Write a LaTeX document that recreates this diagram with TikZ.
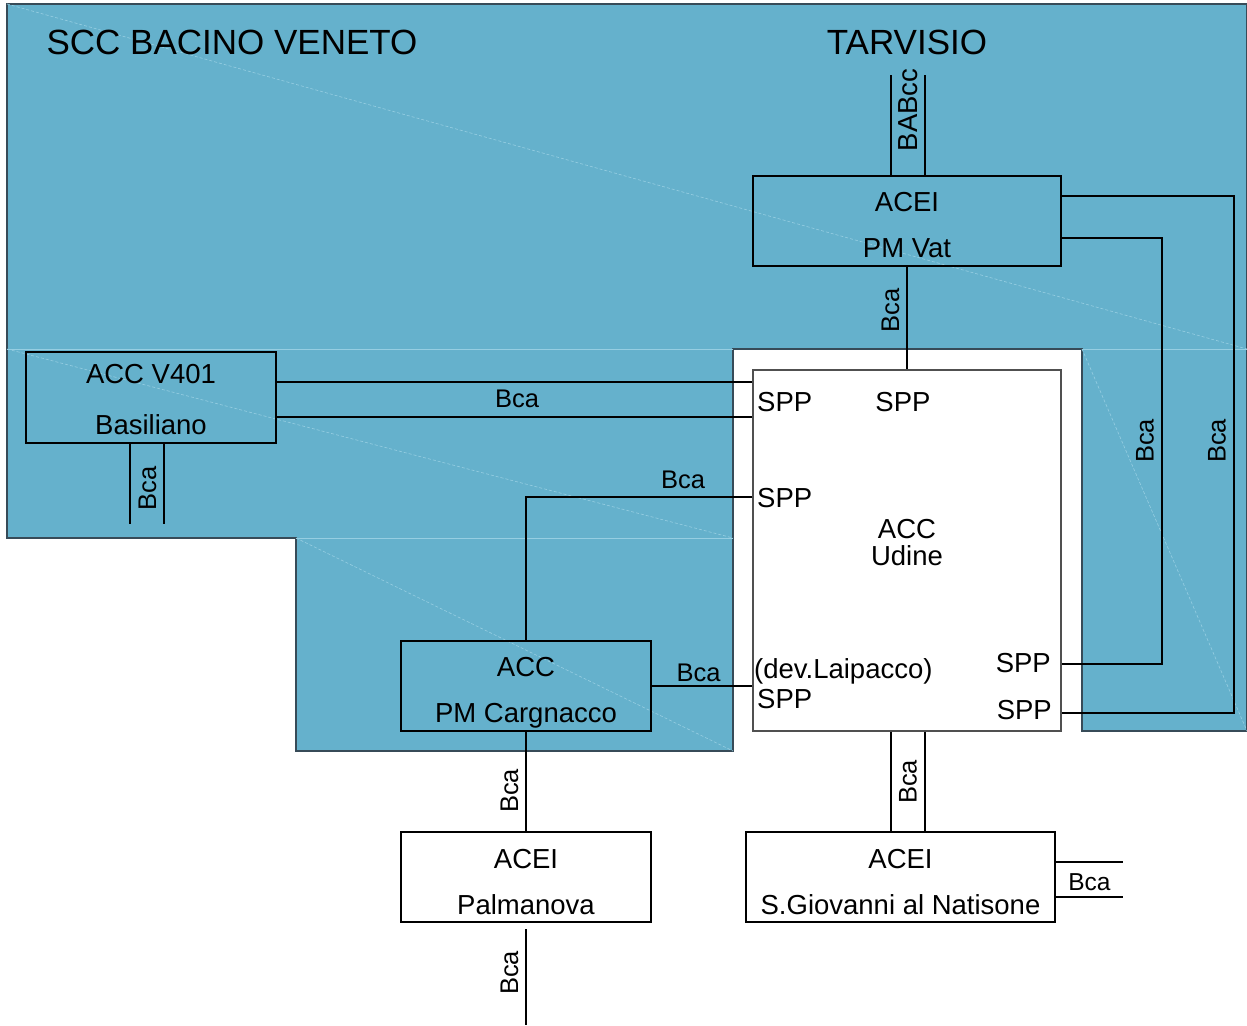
\documentclass[tikz,border=0pt]{standalone}
\usepackage{fontspec}
\setmainfont{Liberation Sans}
\usetikzlibrary{calc}
\definecolor{regionblue}{RGB}{101,177,204}
\definecolor{regionedge}{RGB}{55,75,88}
\definecolor{seam}{RGB}{150,206,226}
\definecolor{udineedge}{RGB}{80,80,80}
\newcommand{\fbig}{\fontsize{35pt}{38pt}\selectfont}
\newcommand{\fmid}{\fontsize{27.5pt}{30pt}\selectfont}
\newcommand{\fbca}{\fontsize{25.5pt}{28pt}\selectfont}
\begin{document}
\begin{tikzpicture}[x=1pt,y=-1pt,
  box/.style={draw=black,line width=1.1pt,inner sep=0pt},
  wire/.style={draw=black,line width=1.1pt},
  seamline/.style={draw=seam,line width=0.6pt},
  seamdash/.style={draw=seam,line width=0.6pt,dash pattern=on 3pt off 2pt},
  title/.style={inner sep=0pt,font=\fbig,anchor=base},
  lbl/.style={inner sep=0pt,font=\fmid,anchor=base},
  bca/.style={inner sep=0pt,font=\fbca,anchor=base},
  vbca/.style={inner sep=0pt,font=\fbca,rotate=90}]
\useasboundingbox (0,0) rectangle (1247,1025);
\fill[white] (0,0) rectangle (1247,1025);
% blue region
\filldraw[fill=regionblue,draw=regionedge,line width=1.2pt]
  (7,4) -- (1247,4) -- (1247,731) -- (1082,731) -- (1082,349) -- (733,349)
  -- (733,751) -- (296,751) -- (296,538) -- (7,538) -- cycle;
% faint seams
\path[seamdash] (7,4) -- (1247,349);
\path[seamline] (7,349) -- (733,349) (1082,349) -- (1247,349) (296,538) -- (733,538);
\path[seamdash] (7,349) -- (733,538) (296,538) -- (733,751) (1082,349) -- (1247,731);

% titles
\node[title] (scc) at (232,55) {SCC BACINO VENETO};
\node[title] (tarv) at (907,55) {TARVISIO};

% boxes
\node[box,minimum width=308pt,minimum height=90pt] (pmvat) at (907,221) {};
\node[box,fill=white,draw=udineedge,minimum width=308pt,minimum height=361pt] (udine) at (907,550.5) {};
\node[box,minimum width=250pt,minimum height=91pt] (basil) at (151,397.5) {};
\node[box,minimum width=250pt,minimum height=90pt] (carg) at (526,686) {};
\node[box,fill=white,minimum width=250pt,minimum height=90pt] (palm) at (526,877) {};
\node[box,fill=white,minimum width=309pt,minimum height=90pt] (sgio) at (900.5,877) {};

% box texts
\node[lbl] (pmvatA) at (907,211) {ACEI};
\node[lbl] (pmvatB) at (907,257) {PM Vat};
\node[lbl] (basilA) at (151,383) {ACC V401};
\node[lbl] (basilB) at (151,434) {Basiliano};
\node[lbl] (cargA) at (526,676) {ACC};
\node[lbl] (cargB) at (526,722) {PM Cargnacco};
\node[lbl] (palmA) at (526,868) {ACEI};
\node[lbl] (palmB) at (526,914) {Palmanova};
\node[lbl] (sgioA) at (900.5,868) {ACEI};
\node[lbl] (sgioB) at (900.5,914) {S.Giovanni al Natisone};
\node[lbl] (udineA) at (907,538) {ACC};
\node[lbl] (udineB) at (907,565) {Udine};
\node[lbl,anchor=base west] (spp1) at (757,411) {SPP};
\node[lbl] (spp2) at (903,411) {SPP};
\node[lbl,anchor=base west] (spp3) at (757,507) {SPP};
\node[lbl,anchor=base west] (dev) at (754,678) {(dev.Laipacco)};
\node[lbl,anchor=base west] (spp4) at (757,708) {SPP};
\node[lbl,anchor=base east] (spp5) at (1051,672) {SPP};
\node[lbl,anchor=base east] (spp6) at (1052,719) {SPP};

% free ends
\coordinate (babtop) at (907,75);
\coordinate (basilend) at (147,524);
\coordinate (palmtop) at (526,929);
\coordinate (palmend) at (526,1025);
\coordinate (sgioend) at (1123,880);

% BABcc into PM Vat
\draw[wire] (pmvat.north -| 891,0) -- (babtop -| 891,0);
\draw[wire] (pmvat.north -| 925,0) -- (babtop -| 925,0);
\node[vbca,font=\fmid] (babcc) at (908,110) {BABcc};

% PM Vat -> Udine
\draw[wire] (pmvat.south) -- (udine.north);
\node[vbca] (bca1) at (890.5,310.5) {Bca};

% PM Vat right loops
\draw[wire] (pmvat.east |- 0,196) -- (1234,196) -- (1234,713) -- (udine.east |- 0,713);
\draw[wire] (pmvat.east |- 0,238) -- (1162,238) -- (1162,664) -- (udine.east |- 0,664);
\node[vbca] (bca2) at (1145,441) {Bca};
\node[vbca] (bca3) at (1217,441) {Bca};

% Basiliano -> Udine
\draw[wire] (basil.east |- 0,382) -- (udine.west |- 0,382);
\draw[wire] (basil.east |- 0,417) -- (udine.west |- 0,417);
\node[bca] (bca4) at (517,407) {Bca};

% Basiliano bottom
\draw[wire] (basil.south -| 130,0) -- (basilend -| 130,0);
\draw[wire] (basil.south -| 164,0) -- (basilend -| 164,0);
\node[vbca] (bca5) at (147.5,488.5) {Bca};

% Udine SPP -> Cargnacco
\draw[wire] (udine.west |- 0,497) -- (carg.north |- 0,497) -- (carg.north);
\node[bca] (bca6) at (683,488) {Bca};

% Cargnacco -> Udine
\draw[wire] (carg.east) -- (udine.west |- carg.east);
\node[bca] (bca7) at (698.5,681) {Bca};

% Cargnacco -> Palmanova
\draw[wire] (carg.south) -- (palm.north);
\node[vbca] (bca8) at (509.5,791) {Bca};

% Palmanova bottom
\draw[wire] (palmtop) -- (palmend);
\node[vbca] (bca9) at (509.5,973) {Bca};

% Udine -> S.Giovanni
\draw[wire] (udine.south -| 891,0) -- (sgio.north -| 891,0);
\draw[wire] (udine.south -| 925,0) -- (sgio.north -| 925,0);
\node[vbca] (bca10) at (908,782) {Bca};

% S.Giovanni right
\draw[wire] (sgio.east |- 0,862) -- (sgioend |- 0,862);
\draw[wire] (sgio.east |- 0,897) -- (sgioend |- 0,897);
\node[bca,font=\fontsize{24.5pt}{27pt}\selectfont] (bca11) at (1089.5,890) {Bca};
\end{tikzpicture}
\end{document}
